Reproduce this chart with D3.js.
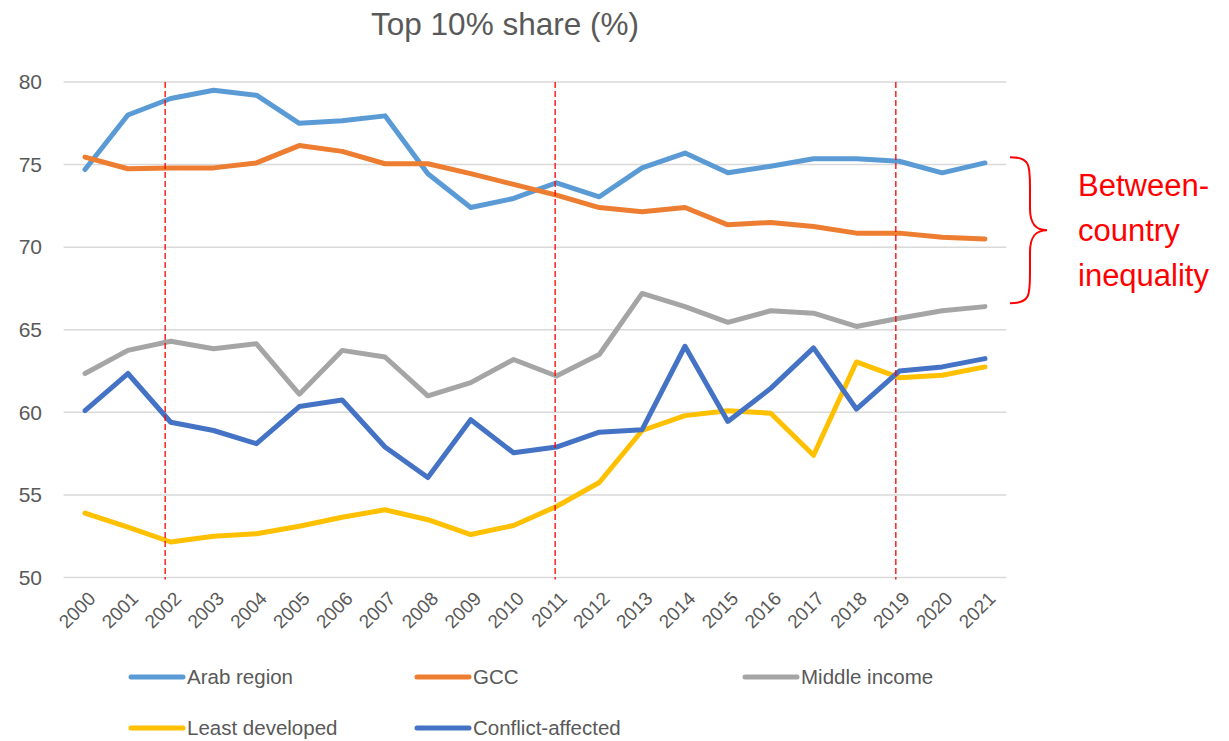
<!DOCTYPE html>
<html>
<head>
<meta charset="utf-8">
<script src="https://cdn.jsdelivr.net/npm/d3@7"></script>
<style>
  body { margin: 0; background: #fff; }
  svg { display: block; font-family: "Liberation Sans", Arial, sans-serif; }
</style>
</head>
<body>
<svg id="chart"></svg>
<script>
const WIDTH = 1229;
const HEIGHT = 741;

const years = d3.range(2000, 2022).map(String);
const yTicks = [50, 55, 60, 65, 70, 75, 80];
// the dashed markers sit just left of their year ticks in the source
const markerYears = [2001.87, 2010.97, 2018.92];

const arabRegion = [74.7, 78.0, 79.0, 79.5, 79.2, 77.5, 77.65, 77.95, 74.45, 72.4, 72.95,
  73.9, 73.05, 74.8, 75.7, 74.5, 74.9, 75.35, 75.35, 75.2, 74.5, 75.1];
const gcc = [75.45, 74.75, 74.8, 74.8, 75.1, 76.15, 75.8, 75.05, 75.05, 74.45, 73.8,
  73.15, 72.4, 72.15, 72.4, 71.35, 71.5, 71.25, 70.85, 70.85, 70.6, 70.5];
const middleIncome = [62.35, 63.75, 64.3, 63.85, 64.15, 61.1, 63.75, 63.35, 61.0, 61.8, 63.2,
  62.2, 63.5, 67.2, 66.4, 65.45, 66.15, 66.0, 65.2, 65.7, 66.15, 66.4];
const leastDeveloped = [53.9, 53.05, 52.15, 52.5, 52.65, 53.1, 53.65, 54.1, 53.5, 52.6, 53.15,
  54.3, 55.75, 58.9, 59.8, 60.1, 59.95, 57.4, 63.05, 62.1, 62.25, 62.75];
const conflictAffected = [60.1, 62.35, 59.4, 58.9, 58.1, 60.35, 60.75, 57.9, 56.05, 59.55, 57.55,
  57.9, 58.8, 58.95, 64.0, 59.45, 61.45, 63.9, 60.2, 62.5, 62.75, 63.25];

const seriesNames = ["Arab region", "GCC", "Middle income", "Least developed", "Conflict-affected"];
const seriesColors = ["#5B9BD5", "#ED7D31", "#A5A5A5", "#FFC000", "#4472C4"];
const seriesValues = [arabRegion, gcc, middleIncome, leastDeveloped, conflictAffected];

const svg = d3.select("#chart")
  .attr("width", WIDTH)
  .attr("height", HEIGHT);

const x = d3.scalePoint().domain(years).range([63.6, 1006.4]).padding(0.5);
const xYear = d3.scaleLinear().domain([2000, 2021]).range([x("2000"), x("2021")]);
const y = d3.scaleLinear().domain([50, 80]).range([577.5, 82]);

const textColor = "#595959";

// title
svg.append("text")
  .attr("x", 505)
  .attr("y", 35)
  .attr("text-anchor", "middle")
  .attr("font-size", 31.5)
  .attr("fill", textColor)
  .text("Top 10% share (%)");

// gridlines
svg.append("g")
  .selectAll("line")
  .data(yTicks)
  .join("line")
  .attr("x1", 63.6)
  .attr("x2", 1006.4)
  .attr("y1", d => y(d))
  .attr("y2", d => y(d))
  .attr("stroke", "#D9D9D9")
  .attr("stroke-width", 1.5);

// y axis labels
const yAxis = svg.append("g")
  .attr("transform", "translate(42,0)")
  .call(d3.axisLeft(y).tickValues(yTicks).tickSize(0).tickPadding(0));
yAxis.select(".domain").remove();
yAxis.selectAll("text")
  .attr("font-size", 21)
  .attr("font-family", "Liberation Sans, Arial, sans-serif")
  .attr("fill", textColor);

// x axis labels, rotated
svg.append("g")
  .selectAll("text")
  .data(years)
  .join("text")
  .attr("transform", d => `translate(${x(d) + 7},595) rotate(-45)`)
  .attr("text-anchor", "end")
  .attr("dy", "0.35em")
  .attr("font-size", 19)
  .attr("fill", textColor)
  .text(d => d);

// series lines
const line = d3.line()
  .x((d, i) => x(years[i]))
  .y(d => y(d));

seriesValues.forEach((vals, i) => {
  svg.append("path")
    .datum(vals)
    .attr("fill", "none")
    .attr("stroke", seriesColors[i])
    .attr("stroke-width", 5)
    .attr("stroke-linejoin", "round")
    .attr("stroke-linecap", "round")
    .attr("d", line);
});

// red dashed markers
svg.append("g")
  .selectAll("line")
  .data(markerYears)
  .join("line")
  .attr("x1", d => xYear(d))
  .attr("x2", d => xYear(d))
  .attr("y1", y(80))
  .attr("y2", y(50) + 2)
  .attr("stroke", "#FF0000")
  .attr("stroke-width", 1.3)
  .attr("stroke-dasharray", "6 3");

// brace annotation
const bTop = y(75.45), bBot = y(66.6), bMid = (bTop + bBot) / 2;
const bx0 = 1010, bx1 = 1030, bx2 = 1047;
const brace = d3.path();
brace.moveTo(bx0, bTop);
brace.bezierCurveTo(bx1, bTop, bx1, bTop + 8, bx1, bTop + 30);
brace.lineTo(bx1, bMid - 22);
brace.bezierCurveTo(bx1, bMid - 6, bx1 + 6, bMid, bx2, bMid);
brace.bezierCurveTo(bx1 + 6, bMid, bx1, bMid + 6, bx1, bMid + 22);
brace.lineTo(bx1, bBot - 30);
brace.bezierCurveTo(bx1, bBot - 8, bx1, bBot, bx0, bBot);
svg.append("path")
  .attr("d", brace.toString())
  .attr("fill", "none")
  .attr("stroke", "#FF0000")
  .attr("stroke-width", 2);

const noteLines = ["Between-", "country", "inequality"];
svg.append("g")
  .selectAll("text")
  .data(noteLines)
  .join("text")
  .attr("x", 1078)
  .attr("y", (d, i) => 196 + i * 45)
  .attr("font-size", 31)
  .attr("fill", "#FF0000")
  .text(d => d);

// legend
const legendPos = [[131, 677], [417, 677], [745, 677], [131, 728], [417, 728]];
const legend = svg.append("g")
  .selectAll("g")
  .data(seriesNames)
  .join("g")
  .attr("transform", (d, i) => `translate(${legendPos[i][0]},${legendPos[i][1]})`);
legend.append("line")
  .attr("x1", 0)
  .attr("x2", 52)
  .attr("stroke", (d, i) => seriesColors[i])
  .attr("stroke-width", 5)
  .attr("stroke-linecap", "round");
legend.append("text")
  .attr("x", 56)
  .attr("dy", "0.35em")
  .attr("font-size", 20.5)
  .attr("fill", textColor)
  .text(d => d);
</script>
</body>
</html>
